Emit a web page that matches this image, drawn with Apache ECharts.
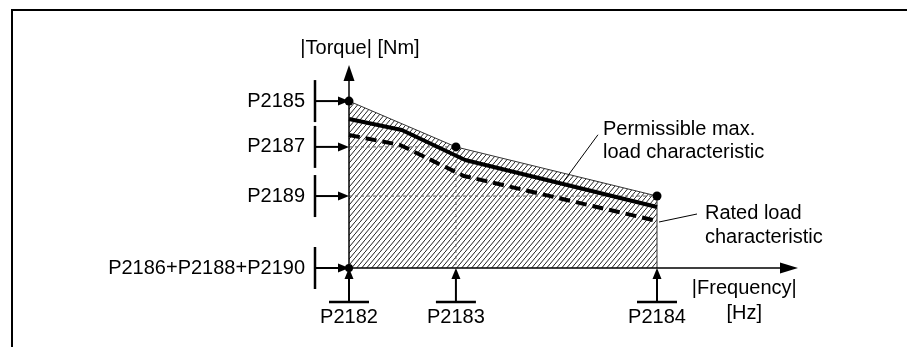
<!DOCTYPE html>
<html>
<head>
<meta charset="utf-8">
<script src="https://cdn.jsdelivr.net/npm/echarts@6/dist/echarts.min.js"></script>
<style>
  html, body { margin: 0; padding: 0; background: #fff; }
  #chart { position: absolute; left: 0; top: 0; width: 907px; height: 347px; }
  #frame { position: absolute; left: 11px; top: 9px; width: 910px; height: 360px;
           border-top: 2px solid #000; border-left: 2px solid #000; pointer-events: none; }
</style>
</head>
<body>
<div id="chart"></div>
<div id="frame"></div>
<script>
// ---- data (schematic units: frequency 0..100, torque 0..100) ----
const xTickNames = ['P2182', 'P2183', 'P2184'];
const xTickValues = [0, 24.3, 70];
const yTickNames = ['P2185', 'P2187', 'P2189', 'P2186+P2188+P2190'];
const yTickValues = [85.6, 62.1, 36.9, 0];

// upper limit polyline through P2185 / P2187 / P2189 at P2182 / P2183 / P2184
const limitCurve = [[0, 85.6], [24.3, 62.1], [70, 36.9]];
// permissible max. load characteristic (solid)
const permissibleLoad = [[0, 76.4], [12.0, 70.8], [26.4, 55.4], [70, 31.3]];
// rated load characteristic (dashed)
const ratedLoad = [[0, 68.2], [11.6, 63.1], [26.1, 47.2], [70, 24.1]];
// annotation anchors (points on the curves) and texts
const annotationPoints = [[48.4, 43.2], [70, 24.1]];
const annotationTexts = ['Permissible max.\nload characteristic', 'Rated load\ncharacteristic'];

const FONT = '"Liberation Sans", Arial, Helvetica, sans-serif';

// hatch pattern
const hatch = document.createElement('canvas');
hatch.width = 5; hatch.height = 6;
(function () {
  const c = hatch.getContext('2d');
  c.strokeStyle = '#222';
  c.lineWidth = 1;
  c.beginPath();
  c.moveTo(-1, 7.2); c.lineTo(6, -1.2);
  c.stroke();
})();

const last = limitCurve[limitCurve.length - 1];
const areaData = limitCurve.concat([[last[0], 0]]);
const guide1 = [[0, limitCurve[1][1]], [limitCurve[1][0], limitCurve[1][1]], [limitCurve[1][0], 0]];
const guide2 = [[0, last[1]], [last[0], last[1]]];
const dots = limitCurve.slice();

function lookup(values, names, v) {
  for (let i = 0; i < values.length; i++) if (Math.abs(values[i] - v) < 1e-6) return names[i];
  return '';
}

const chart = echarts.init(document.getElementById('chart'), null, { renderer: 'canvas' });
const annStyle = [
  { lx0: 0, ly0: 0, lx1: 36, ly1: -49, tx: 41, ty: -66, lh: 23 },
  { lx0: 2, ly0: 1, lx1: 40, ly1: -7, tx: 48, ty: -20, lh: 24 }
];

chart.setOption({
  animation: false,
  backgroundColor: '#fff',
  grid: { left: 349, right: 118, top: 73, bottom: 79, containLabel: false, outerBoundsMode: 'none' },
  xAxis: {
    type: 'value', min: 0, max: 100, z: 10,
    name: '|Frequency|\n[Hz]', nameLocation: 'end', nameGap: -45,
    nameTextStyle: { fontFamily: FONT, fontSize: 20, color: '#000', align: 'center', verticalAlign: 'top', lineHeight: 25, padding: [8, 0, 0, 0] },
    axisLine: { show: true, lineStyle: { color: '#000', width: 1.5 }, symbol: ['none', 'triangle'], symbolSize: [11, 18] },
    axisTick: { show: false },
    splitLine: { show: false },
    axisLabel: {
      customValues: xTickValues, margin: 49, verticalAlign: 'middle',
      fontFamily: FONT, fontSize: 20, color: '#000',
      formatter: v => lookup(xTickValues, xTickNames, v)
    }
  },
  yAxis: {
    type: 'value', min: 0, max: 100, z: 10,
    name: '|Torque| [Nm]', nameLocation: 'end', nameGap: 25,
    nameTextStyle: { fontFamily: FONT, fontSize: 20, color: '#000', align: 'center', verticalAlign: 'middle', padding: [0, 0, 0, 22] },
    axisLine: { show: true, lineStyle: { color: '#000', width: 1.5 }, symbol: ['none', 'triangle'], symbolSize: [11, 16] },
    axisTick: { show: false },
    splitLine: { show: false },
    axisLabel: {
      customValues: yTickValues, margin: 44, align: 'right', verticalAlign: 'middle',
      fontFamily: FONT, fontSize: 20, color: '#000',
      formatter: v => lookup(yTickValues, yTickNames, v)
    }
  },
  series: [
    {
      name: 'limit', type: 'line', data: areaData, symbol: 'none', z: 1,
      lineStyle: { color: '#333', width: 1 },
      areaStyle: { color: { image: hatch, repeat: 'repeat' }, opacity: 1, origin: 'start' }
    },
    {
      name: 'guideP2187', type: 'line', data: guide1, symbol: 'none', z: 2,
      lineStyle: { color: '#666', width: 1, type: [3, 3] }
    },
    {
      name: 'guideP2189', type: 'line', data: guide2, symbol: 'none', z: 2,
      lineStyle: { color: '#666', width: 1, type: [3, 3] }
    },
    {
      name: 'Rated load characteristic', type: 'line', data: ratedLoad, symbol: 'none', z: 3,
      lineStyle: { color: '#000', width: 4, type: [11, 6] }
    },
    {
      name: 'Permissible max. load characteristic', type: 'line', data: permissibleLoad, symbol: 'none', z: 3,
      lineStyle: { color: '#000', width: 4 }
    },
    {
      name: 'points', type: 'scatter', data: dots, symbol: 'circle', symbolSize: 9, z: 5,
      itemStyle: { color: '#000', opacity: 1 }
    },
    {
      name: 'origin', type: 'scatter', data: [[0, 0]], symbol: 'circle', symbolSize: 8, z: 5,
      itemStyle: { color: '#000', opacity: 1 }
    },
    {
      name: 'yMarkers', type: 'custom', clip: false, z: 6,
      data: yTickValues.map(v => [0, v]),
      renderItem: function (params, api) {
        const p = api.coord([api.value(0), api.value(1)]);
        const bx = p[0] - 34;
        return {
          type: 'group', children: [
            { type: 'line', shape: { x1: bx, y1: p[1] - 21, x2: bx, y2: p[1] + 21 }, style: { stroke: '#000', lineWidth: 2.5 } },
            { type: 'line', shape: { x1: bx, y1: p[1], x2: p[0] - 9, y2: p[1] }, style: { stroke: '#000', lineWidth: 2 } },
            { type: 'polygon', shape: { points: [[p[0] - 11, p[1] - 4.5], [p[0] - 11, p[1] + 4.5], [p[0], p[1]]] }, style: { fill: '#000' } }
          ]
        };
      }
    },
    {
      name: 'xMarkers', type: 'custom', clip: false, z: 6,
      data: xTickValues.map(v => [v, 0]),
      renderItem: function (params, api) {
        const p = api.coord([api.value(0), api.value(1)]);
        const by = p[1] + 34;
        return {
          type: 'group', children: [
            { type: 'line', shape: { x1: p[0] - 20, y1: by, x2: p[0] + 20, y2: by }, style: { stroke: '#000', lineWidth: 2.5 } },
            { type: 'line', shape: { x1: p[0], y1: by, x2: p[0], y2: p[1] + 9 }, style: { stroke: '#000', lineWidth: 2 } },
            { type: 'polygon', shape: { points: [[p[0] - 4.5, p[1] + 11], [p[0] + 4.5, p[1] + 11], [p[0], p[1]]] }, style: { fill: '#000' } }
          ]
        };
      }
    },
    {
      name: 'annotations', type: 'custom', clip: false, z: 6,
      data: annotationPoints.map((p, i) => [p[0], p[1], i]),
      renderItem: function (params, api) {
        const i = api.value(2);
        const p = api.coord([api.value(0), api.value(1)]);
        const s = annStyle[i];
        return {
          type: 'group', children: [
            { type: 'line', shape: { x1: p[0] + s.lx0, y1: p[1] + s.ly0, x2: p[0] + s.lx1, y2: p[1] + s.ly1 }, style: { stroke: '#000', lineWidth: 1 } },
            { type: 'text', style: { text: annotationTexts[i], x: p[0] + s.tx, y: p[1] + s.ty, fill: '#000',
              fontFamily: FONT, fontSize: 20, lineHeight: s.lh, align: 'left', verticalAlign: 'top' } }
          ]
        };
      }
    }
  ]
});
</script>
</body>
</html>
